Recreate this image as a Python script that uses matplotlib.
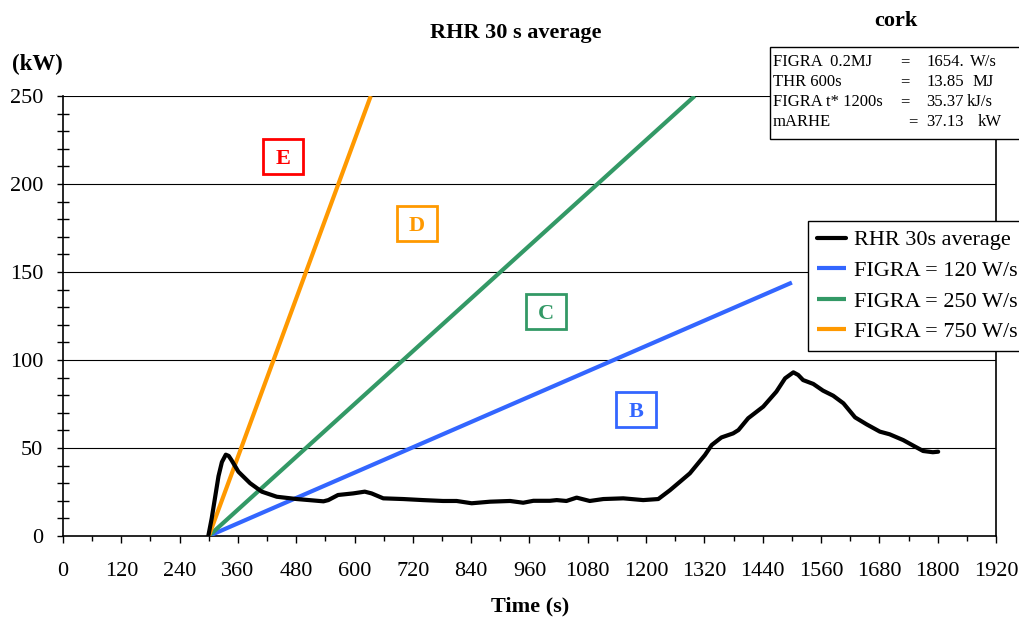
import matplotlib
matplotlib.use("Agg")
import matplotlib.pyplot as plt
from matplotlib.patches import Rectangle
from matplotlib.ticker import MultipleLocator

plt.rcParams['font.family'] = ['Liberation Serif', 'DejaVu Serif']

# RHR 30 s average curve (time s, kW)
rhr_t = [299, 306, 313, 320, 327, 335, 341, 347, 361, 385, 409, 440, 481, 536, 546, 566, 597,
         621, 635, 659, 700, 741, 782, 810, 841, 879, 920, 947, 968, 1002, 1016, 1036, 1057,
         1084, 1112, 1153, 1194, 1225, 1249, 1270, 1290, 1321, 1335, 1355, 1379, 1390, 1410,
         1441, 1468, 1486, 1503, 1513, 1523, 1544, 1564, 1585, 1606, 1630, 1654, 1681,
         1701, 1729, 1750, 1770, 1790, 1801]
rhr_v = [0, 10, 22, 34, 42, 46.2, 45.5, 43, 36.5, 30, 25.2, 22.3, 21, 19.7, 20.4, 23.3, 24.2,
         25.2, 24.2, 21.4, 21, 20.4, 19.9, 19.9, 18.6, 19.5, 19.9, 18.9, 20, 20, 20.4, 19.9, 21.8,
         19.9, 21, 21.4, 20.4, 21, 26, 30.9, 35.6, 46, 51.7, 56, 58.3, 60.2, 66.9,
         73.5, 82, 89.6, 93, 91.5, 88.6, 86.4, 82.6, 79.7, 75.4, 67.4, 63.4, 59.3,
         57.8, 54.5, 51.3, 48.3, 47.6, 47.9]

# FIGRA reference lines (start time, end time, slope W/s)
figra_labels = ["FIGRA = 120 W/s", "FIGRA = 250 W/s", "FIGRA = 750 W/s"]
figra_start = [300, 300, 300]
figra_end = [1500, 1300, 633.3]
figra_slope = [120, 250, 750]
figra_colors = ["#3366FF", "#339966", "#FF9900"]

# class labels
class_names = ["E", "D", "C", "B"]
class_t = [453, 728, 994, 1179]
class_v = [215.6, 177.8, 127.8, 71.9]
class_colors = ["#FF0000", "#FF9900", "#339966", "#3366FF"]

info_labels = ["FIGRA  0.2MJ", "THR 600s", "FIGRA t* 1200s", "mARHE"]
info_values = ["1654.", "13.85", "35.37", "37.13"]
info_units = ["W/s", "MJ", "kJ/s", "kW"]

W, H = 1020, 617
fig = plt.figure(figsize=(W / 100, H / 100), dpi=100)
ax = fig.add_axes([63 / W, 1 - 536 / H, (996 - 63) / W, (536 - 96) / H])

for yv in [50, 100, 150, 200, 250]:
    ax.axhline(yv, color='black', lw=0.8, zorder=1)

for lab, t0, t1, s, c in zip(figra_labels, figra_start, figra_end, figra_slope, figra_colors):
    ax.plot([t0, t1], [0, (t1 - t0) * s / 1000.0], color=c, lw=3.0, label=lab, zorder=3,
            solid_capstyle='butt')

ax.plot(rhr_t, rhr_v, color='black', lw=3.0, label="RHR 30s average", zorder=4,
        solid_capstyle='round', solid_joinstyle='round')

# class boxes: 40 px wide, 35 px tall
bw = 40 * 1920 / 933
bh = 35 * 250 / 440
for n, t, v, c in zip(class_names, class_t, class_v, class_colors):
    ax.add_patch(Rectangle((t - bw / 2, v - bh / 2), bw, bh, fc='white', ec=c, lw=2.0, zorder=5))
    ax.text(t, v, n, color=c, fontsize=16, fontweight='bold', ha='center', va='center_baseline',
            zorder=6)

ax.set_xlim(0, 1920)
ax.set_ylim(0, 250)
ax.xaxis.set_major_locator(MultipleLocator(120))
ax.xaxis.set_minor_locator(MultipleLocator(60))
ax.yaxis.set_major_locator(MultipleLocator(50))
ax.yaxis.set_minor_locator(MultipleLocator(10))
ax.tick_params(axis='x', which='major', direction='out', length=5, width=1, labelsize=16, pad=14)
ax.tick_params(axis='x', which='minor', direction='out', length=3.6, width=1)
ax.tick_params(axis='y', which='major', direction='out', length=4.3, width=1, labelsize=16, pad=10)
ax.tick_params(axis='y', which='minor', direction='inout', length=8, width=1)
ax.spines['top'].set_visible(False)
for sp in ['left', 'bottom', 'right']:
    ax.spines[sp].set_linewidth(1.2)

fig.text(530 / W, 1 - 606 / H, "Time (s)", fontsize=16, fontweight='bold',
         ha='center', va='center')
fig.text(516 / W, 1 - 33 / H, "RHR 30 s average", fontsize=16, fontweight='bold',
         ha='center', va='center')
fig.text(37 / W, 1 - 64 / H, "(kW)", fontsize=16.5, fontweight='bold', ha='center', va='center')
fig.text(896 / W, 1 - 21 / H, "cork", fontsize=16, fontweight='bold', ha='center', va='center')

handles, labels = ax.get_legend_handles_labels()
order = [3, 0, 1, 2]
leg = ax.legend([handles[i] for i in order], [labels[i] for i in order],
                loc='upper left', bbox_to_anchor=(808 / W, 1 - 221 / H),
                bbox_transform=fig.transFigure, fontsize=16, frameon=True,
                fancybox=False, edgecolor='black', framealpha=1, borderpad=0.4,
                handlelength=1.3, handletextpad=0.36, labelspacing=0.45, borderaxespad=0)
leg.get_frame().set_linewidth(1.0)
leg.set_zorder(10)

# info box
rect = Rectangle((770 / W, 1 - 139 / H), (1040 - 770) / W, (139 - 47) / H,
                 transform=fig.transFigure, fc='white', ec='black', lw=1.0, zorder=20)
fig.add_artist(rect)
rows_y = [60, 80, 100, 120]
eq_x = [900, 900, 900, 908]
unit_x = [970, 973, 967, 978]
for i in range(4):
    yy = 1 - rows_y[i] / H
    fig.text(773 / W, yy, info_labels[i], fontsize=12, ha='left', va='center_baseline', zorder=21)
    fig.text(eq_x[i] / W, yy, "=", fontsize=12, ha='left', va='center_baseline', zorder=21)
    fig.text(926 / W, yy, info_values[i], fontsize=12, ha='left', va='center_baseline', zorder=21)
    fig.text(unit_x[i] / W, yy, info_units[i], fontsize=12, ha='left', va='center_baseline', zorder=21)

fig.savefig("out.png", dpi=100)
